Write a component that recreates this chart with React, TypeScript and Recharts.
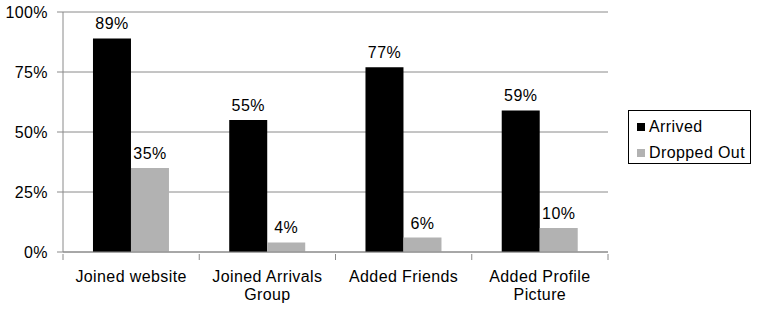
import { BarChart, Bar, XAxis, YAxis, CartesianGrid, Legend, LabelList } from 'recharts'

const categories = ['Joined website', 'Joined Arrivals Group', 'Added Friends', 'Added Profile Picture']
const categoryLines = [['Joined website'], ['Joined Arrivals', 'Group'], ['Added Friends'], ['Added Profile', 'Picture']]
const arrived = [89, 55, 77, 59]
const droppedOut = [35, 4, 6, 10]
const yTicks = [0, 25, 50, 75, 100]

const data = categories.map((name, i) => ({
  name,
  lines: categoryLines[i],
  arrived: arrived[i],
  dropped: droppedOut[i],
}))

const FONT = 'Arial, "Liberation Sans", sans-serif'
const AXIS = '#8a8a8a'

function CategoryTick(props: any) {
  const { x, y, payload, index, visibleTicksCount } = props
  const half = payload?.offset || 68
  const lines: string[] = data[index]?.lines ?? [payload.value]
  return (
    <g>
      <line x1={x - half} x2={x - half} y1={y} y2={y + 6} stroke={AXIS} />
      {index === visibleTicksCount - 1 && (
        <line x1={x + half} x2={x + half} y1={y} y2={y + 6} stroke={AXIS} />
      )}
      <text x={x} y={y} textAnchor="middle" fontSize={16} fill="#000" fontFamily={FONT} style={{ letterSpacing: 0.4 }}>
        {lines.map((l, i) => (
          <tspan key={i} x={x} dy={i === 0 ? 28 : 18}>
            {l}
          </tspan>
        ))}
      </text>
    </g>
  )
}

function LegendBox() {
  const items = [
    { label: 'Arrived', color: '#000000' },
    { label: 'Dropped Out', color: '#b2b2b2' },
  ]
  return (
    <div
      style={{
        border: '1px solid #000',
        width: 123,
        height: 54,
        boxSizing: 'border-box',
        padding: '5px 0 0 8px',
        fontFamily: FONT,
        fontSize: 16,
        letterSpacing: 0.4,
        background: '#fff',
      }}
    >
      {items.map((it) => (
        <div key={it.label} style={{ display: 'flex', alignItems: 'center', height: 22, marginBottom: 4 }}>
          <span style={{ width: 8, height: 8, background: it.color, display: 'inline-block', marginRight: 4 }} />
          <span>{it.label}</span>
        </div>
      ))}
    </div>
  )
}

export default function App() {
  return (
    <div style={{ position: 'absolute', left: 0, top: 0, background: '#fff' }}>
      <BarChart
        width={767}
        height={313}
        data={data}
        margin={{ top: 12, right: 159, bottom: 0, left: 0 }}
        barCategoryGap="22%"
        barGap={0}
      >
        <CartesianGrid vertical={false} stroke={AXIS} strokeWidth={1} />
        <XAxis
          dataKey="name"
          height={61}
          axisLine={{ stroke: AXIS }}
          tickLine={false}
          tickSize={0}
          interval={0}
          tick={<CategoryTick />}
        />
        <YAxis
          width={63}
          domain={[0, 100]}
          ticks={yTicks}
          tickFormatter={(v) => `${v}%`}
          axisLine={{ stroke: AXIS }}
          tickLine={{ stroke: AXIS }}
          tickSize={6}
          tickMargin={9}
          tick={{ fontSize: 16, fill: '#000', fontFamily: FONT, letterSpacing: 0.4 }}
        />
        <Legend
          layout="horizontal"
          verticalAlign="middle"
          align="center"
          content={<LegendBox />}
          wrapperStyle={{ left: 628, top: 110, width: 125 }}
        />
        <Bar dataKey="arrived" name="Arrived" fill="#000000" isAnimationActive={false}>
          <LabelList
            dataKey="arrived"
            position="top"
            offset={9}
            formatter={(v: any) => `${v}%`}
            style={{ fontSize: 16, fill: '#000', fontFamily: FONT, letterSpacing: 0.4 }}
          />
        </Bar>
        <Bar dataKey="dropped" name="Dropped Out" fill="#b2b2b2" isAnimationActive={false}>
          <LabelList
            dataKey="dropped"
            position="top"
            offset={9}
            formatter={(v: any) => `${v}%`}
            style={{ fontSize: 16, fill: '#000', fontFamily: FONT, letterSpacing: 0.4 }}
          />
        </Bar>
      </BarChart>
    </div>
  )
}
